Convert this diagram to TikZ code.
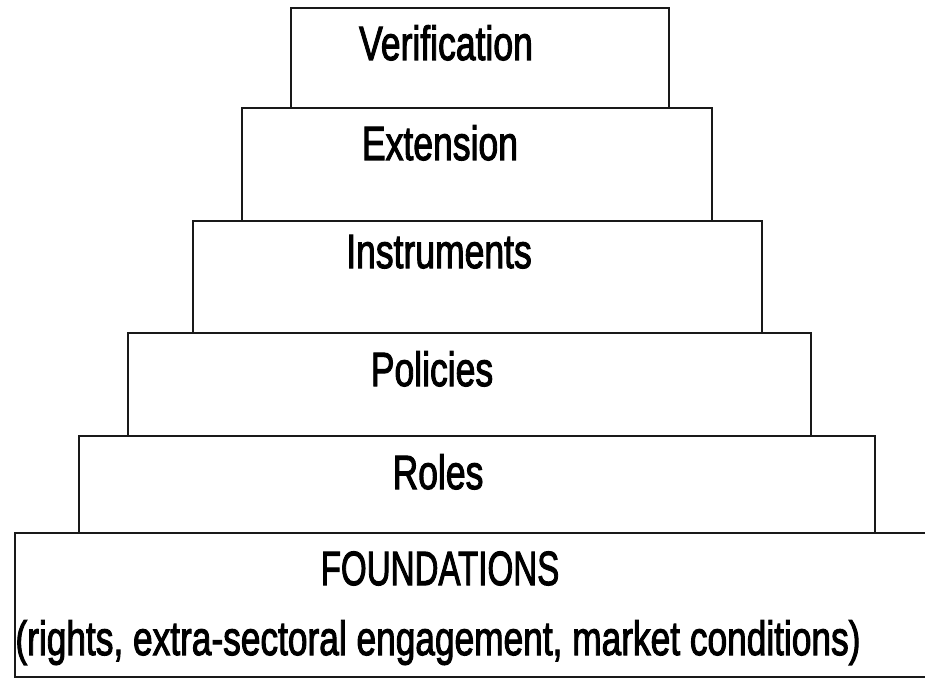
\documentclass[tikz,border=0pt]{standalone}
\usepackage{fontspec}
\setmainfont[FakeBold=2.5]{Liberation Sans}
\tikzset{
  tier/.style={draw=black!90, line width=2.4pt, line join=miter},
  lbl/.style={anchor=base, inner sep=0pt, font=\fontsize{48}{56}\selectfont},
}
\newcommand{\sq}[2][0.74]{\scalebox{#1}[1]{#2}}
\begin{document}
\begin{tikzpicture}[x=1pt,y=-1pt]
\useasboundingbox (0,0) rectangle (925,679);
% tiers
\draw[tier] (291,108) -- (291,8) -- (669,8) -- (669,108);
\draw[tier] (242,221) -- (242,108) -- (712,108) -- (712,221);
\draw[tier] (193,333) -- (193,221) -- (762,221) -- (762,333);
\draw[tier] (128,436) -- (128,333) -- (811,333) -- (811,436);
\draw[tier] (79,533) -- (79,436) -- (875,436) -- (875,533);
\draw[tier] (925,533) -- (15,533) -- (15,677) -- (925,677);
% labels
\node[lbl] (ver) at (446,60) {\sq{Verification}};
\node[lbl] (ext) at (440,160) {\sq{Extension}};
\node[lbl] (ins) at (439,268) {\sq{Instruments}};
\node[lbl] (pol) at (432,386) {\sq{Policies}};
\node[lbl] (rol) at (438,489) {\sq{Roles}};
\node[lbl] (fnd) at (440,585) {\sq[0.69]{FOUNDATIONS}};
\node[lbl] (fnd2) at (438,655) {\sq[0.735]{(rights, extra-sectoral engagement, market conditions)}};
\end{tikzpicture}
\end{document}
